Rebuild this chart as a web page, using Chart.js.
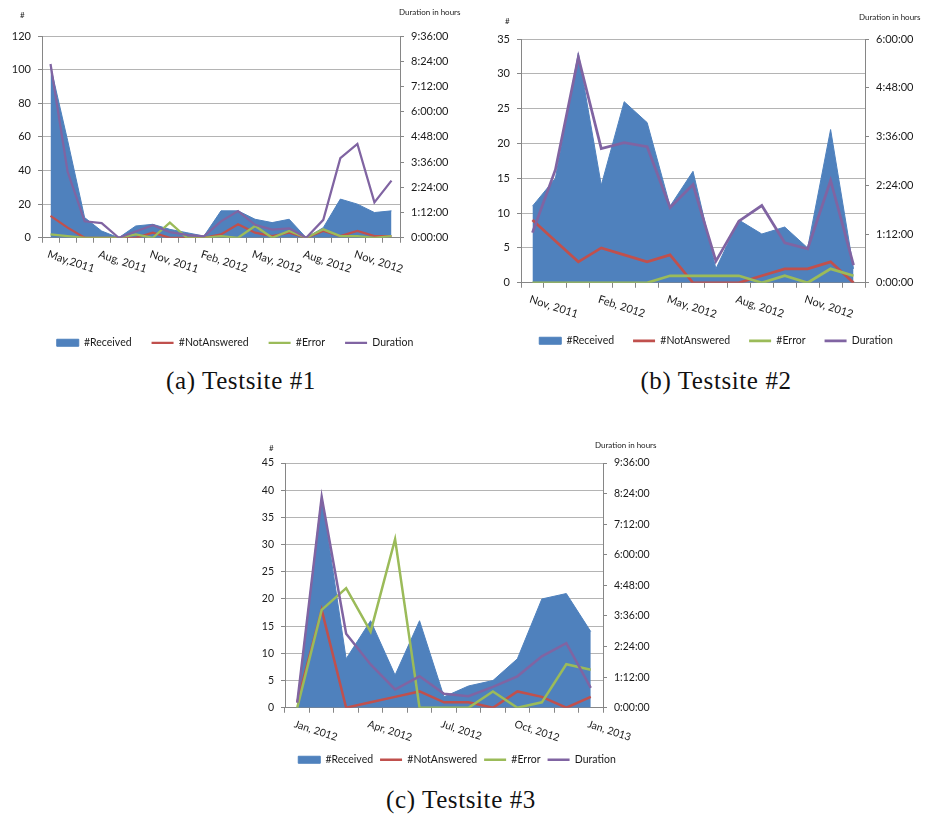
<!DOCTYPE html>
<html>
<head>
<meta charset="utf-8">
<script src="https://cdn.jsdelivr.net/npm/chart.js@4.4.0/dist/chart.umd.min.js"></script>
<style>
  body { margin: 0; background: #fff; width: 930px; height: 817px; position: relative; overflow: hidden; }
  canvas { position: absolute; }
  .cap { position: absolute; width: 300px; text-align: center; font: 25px "Liberation Serif", serif;
         letter-spacing: 0.6px; color: #111; line-height: 28px; }
</style>
</head>
<body>
<canvas id="chartA"></canvas>
<canvas id="chartB"></canvas>
<canvas id="chartC"></canvas>
<div class="cap" style="left:91px;top:367px">(a) Testsite #1</div>
<div class="cap" style="left:566px;top:367px">(b) Testsite #2</div>
<div class="cap" style="left:311px;top:786px">(c) Testsite #3</div>
<script>
/* ===== DATA ===== */
// Testsite #1
const monthsA = ["May,2011", "Jun, 2011", "Jul, 2011", "Aug, 2011", "Sep, 2011", "Oct, 2011", "Nov, 2011",
  "Dec, 2011", "Jan, 2012", "Feb, 2012", "Mar, 2012", "Apr, 2012", "May, 2012", "Jun, 2012", "Jul, 2012",
  "Aug, 2012", "Sep, 2012", "Oct, 2012", "Nov, 2012", "Dec, 2012", "Jan, 2013"];
const receivedA = [102, 58, 12, 4, 0, 7, 8, 5, 3, 1, 16, 16, 11, 9, 11, 0, 6, 23, 20, 15, 16];
const notAnsweredA = [13, 6, 0, 0, 0, 0, 3, 0, 0, 0, 2, 8, 3, 1, 3, 0, 4, 1, 4, 1, 1];
const errorA = [2, 1, 0, 0, 0, 2, 0, 9, 0, 0, 1, 0, 7, 0, 4, 0, 5, 1, 1, 0, 1];
const durationA = [496, 189, 47, 42, 0, 18, 36, 16, 8, 4, 47, 76, 37, 23, 27, 0, 51, 227, 268, 101, 163]; // minutes

// Testsite #2
const monthsB = ["Nov, 2011", "Dec, 2011", "Jan, 2012", "Feb, 2012", "Mar, 2012", "Apr, 2012", "May, 2012",
  "Jun, 2012", "Jul, 2012", "Aug, 2012", "Sep, 2012", "Oct, 2012", "Nov, 2012", "Dec, 2012", "Jan, 2013"];
const receivedB = [11, 15, 33, 14, 26, 23, 11, 16, 2, 9, 7, 8, 5, 22, 2];
const notAnsweredB = [9, 6, 3, 5, 4, 3, 4, 0, 0, 0, 1, 2, 2, 3, 0];
const errorB = [0, 0, 0, 0, 0, 0, 1, 1, 1, 1, 0, 1, 0, 2, 1];
const durationB = [74, 167, 333, 198, 207, 201, 111, 145, 32, 91, 114, 59, 50, 151, 26];

// Testsite #3
const monthsC = ["Jan, 2012", "Feb, 2012", "Mar, 2012", "Apr, 2012", "May, 2012", "Jun, 2012", "Jul, 2012",
  "Aug, 2012", "Sep, 2012", "Oct, 2012", "Nov, 2012", "Dec, 2012", "Jan, 2013"];
const receivedC = [1, 39, 9, 16, 6, 16, 2, 4, 5, 9, 20, 21, 14];
const notAnsweredC = [1, 18, 0, 1, 2, 3, 1, 1, 0, 3, 2, 0, 2];
const errorC = [0, 18, 22, 14, 31, 0, 0, 0, 3, 0, 1, 8, 7];
const durationC = [12, 496, 174, 102, 43, 74, 33, 27, 49, 74, 121, 152, 47];

const seriesNames = ["#Received", "#NotAnswered", "#Error", "Duration"];

/* ===== STYLE ===== */
const BLUE = "#4f81bd", RED = "#c0504d", GREEN = "#9bbb59", PURPLE = "#8064a2";
const GRID = "#b4b4b4", AXIS = "#868686", TEXT = "#1a1a1a";
const FONT = "Lato, 'Open Sans', sans-serif";
const LEGEND_FONT = 10.5;

function fmtDuration(v) {
  const h = Math.floor(v / 60), m = Math.round(v % 60);
  return h + ":" + String(m).padStart(2, "0") + ":00";
}

// slanted month labels (every 3rd month) and the two small axis headers
function extrasPlugin(L, months) {
  return {
    id: "extras",
    afterDraw(chart) {
      const ctx = chart.ctx, a = chart.chartArea, xs = chart.scales.x;
      ctx.save();
      ctx.fillStyle = TEXT;
      ctx.font = L.tickSize + "px " + FONT;
      ctx.textAlign = "left";
      ctx.textBaseline = "top";
      months.forEach((m, i) => {
        if (i % 3) return;
        ctx.save();
        ctx.translate(xs.getPixelForValue(i) - 1, a.bottom + 11);
        ctx.rotate(18 * Math.PI / 180);
        ctx.fillText(m, 0, 0);
        ctx.restore();
      });
      ctx.font = "8px " + FONT;
      ctx.textBaseline = "middle";
      ctx.fillText("#", a.left + L.hash[0], a.top + L.hash[1]);
      ctx.fillText("Duration in hours", a.right + L.dur[0], a.top + L.dur[1]);
      ctx.restore();
    },
  };
}

function buildChart(id, L, months, received, notAnswered, errors, duration) {
  const canvas = document.getElementById(id);
  // canvas is centred on the legend, so no side padding is needed
  const left = Math.round(L.legendX - L.width / 2);
  const H = L.legendY - L.top + LEGEND_FONT / 2 + 10;
  canvas.width = L.width;
  canvas.height = H;
  canvas.style.left = left + "px";
  canvas.style.top = L.top + "px";
  const legendH = LEGEND_FONT + L.legPad + 10;
  const xHeight = H - legendH - (L.area.bottom - L.top);

  const lineSet = (label, data, color, order, axis) => ({
    label, data, yAxisID: axis, borderColor: color, backgroundColor: color,
    borderWidth: L.lw, pointRadius: 0, pointStyle: "line", fill: false, tension: 0, order,
  });

  return new Chart(canvas.getContext("2d"), {
    type: "line",
    data: {
      labels: months,
      datasets: [
        { label: seriesNames[0], data: received, yAxisID: "y", fill: "origin", backgroundColor: BLUE,
          borderColor: BLUE, borderWidth: 1, pointRadius: 0, pointStyle: "rect", tension: 0, order: 4 },
        lineSet(seriesNames[1], notAnswered, RED, 3, "y"),
        lineSet(seriesNames[2], errors, GREEN, 2, "y"),
        lineSet(seriesNames[3], duration, PURPLE, 1, "y1"),
      ],
    },
    options: {
      responsive: false,
      animation: false,
      events: [],
      layout: { padding: { left: 0, right: 0, top: L.area.top - L.top, bottom: 0 } },
      plugins: {
        tooltip: { enabled: false },
        legend: {
          position: "bottom",
          labels: {
            usePointStyle: true, pointStyleWidth: 22, boxHeight: 7, padding: L.legPad,
            color: TEXT, font: { family: FONT, size: LEGEND_FONT },
            sort: (p, q) => p.datasetIndex - q.datasetIndex,
          },
        },
      },
      scales: {
        x: {
          type: "category",
          offset: true,
          grid: { offset: true, drawOnChartArea: false, drawTicks: true, tickLength: 5, color: AXIS },
          border: { color: AXIS },
          ticks: { display: false },
          afterFit: (s) => { s.height = xHeight; },
        },
        y: {
          position: "left",
          min: 0, max: L.yMax,
          ticks: { stepSize: L.yStep, padding: 7, color: TEXT, font: { family: FONT, size: L.tickSize } },
          grid: { color: GRID, tickColor: AXIS, tickLength: 4 },
          border: { color: AXIS },
          afterFit: (s) => { s.width = L.area.left - left; },
        },
        y1: {
          position: "right",
          min: 0, max: L.durMax,
          ticks: { stepSize: 72, padding: 7, color: TEXT, font: { family: FONT, size: L.tickSize },
            callback: (v) => fmtDuration(v) },
          grid: { drawOnChartArea: false, tickColor: AXIS, tickLength: 4 },
          border: { color: AXIS },
          afterFit: (s) => { s.width = left + L.width - L.area.right; },
        },
      },
    },
    plugins: [extrasPlugin(L, months)],
  });
}

/* ===== LAYOUT ===== */
const layoutA = { top: 0, width: 480, area: { left: 42, top: 36, right: 400, bottom: 238 },
  legendX: 235, legendY: 343, legPad: 20, yMax: 120, yStep: 20, durMax: 576, tickSize: 11, lw: 2.25,
  hash: [-22, -21], dur: [-1, -24] };
const layoutB = { top: 0, width: 440, area: { left: 521, top: 39, right: 865, bottom: 283 },
  legendX: 716, legendY: 341, legPad: 19, yMax: 35, yStep: 5, durMax: 360, tickSize: 11, lw: 2.75,
  hash: [-16, -18], dur: [-6, -22] };
const layoutC = { top: 430, width: 460, area: { left: 285, top: 463, right: 603, bottom: 708 },
  legendX: 457, legendY: 760, legPad: 7, yMax: 45, yStep: 5, durMax: 576, tickSize: 10.5, lw: 2.5,
  hash: [-16, -15], dur: [-8, -18] };

buildChart("chartA", layoutA, monthsA, receivedA, notAnsweredA, errorA, durationA);
buildChart("chartB", layoutB, monthsB, receivedB, notAnsweredB, errorB, durationB);
buildChart("chartC", layoutC, monthsC, receivedC, notAnsweredC, errorC, durationC);
</script>
</body>
</html>
